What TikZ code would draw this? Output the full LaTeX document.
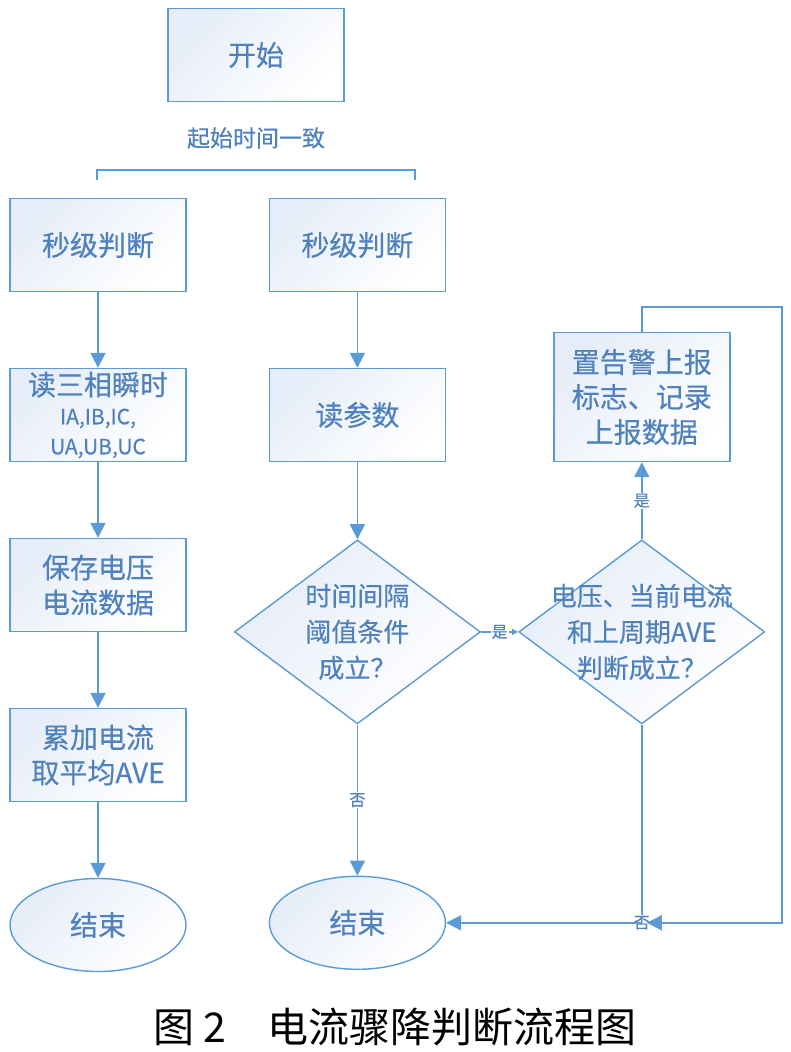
\documentclass[tikz,border=0pt]{standalone}
\usepackage{fontspec}
\setmainfont{Noto Sans CJK SC}
\newfontfamily\boxfont{Noto Sans CJK SC}[FakeBold=0.4]
\usepackage{xcolor}
\usetikzlibrary{arrows.meta}
\usetikzlibrary{positioning, shapes.geometric}
\definecolor{lineblue}{RGB}{91,155,213}
\definecolor{txtblue}{RGB}{79,129,189}
\definecolor{fillblue}{RGB}{230,237,248}
\tikzset{
box/.style = {draw=lineblue, line width=1.4pt, minimum width=176pt,
              minimum height=93pt, text=txtblue, align=center, inner sep=1pt,
              font=\boxfont\fontsize{28}{35}\selectfont,
              top color=fillblue, bottom color=white, shading angle=45},
ell/.style = {box, ellipse},
dia/.style = {box, diamond, minimum width=246pt, minimum height=184pt,
              inner sep=0pt},
lbl/.style = {fill=white, text=txtblue, inner sep=1pt,
              font=\boxfont\fontsize{16}{16}\selectfont},
wire/.style = {draw=lineblue, line width=1.8pt},
arr/.style = {wire, -{Triangle[length=15pt,width=15pt]}},
arrs/.style = {wire, -{Triangle[length=6pt,width=6pt]}}
}
\begin{document}
\begin{tikzpicture}[x=1pt, y=-1pt, node distance=75.6pt]
    \useasboundingbox (0,0) rectangle (790,1052);

    \node[box] (start) at (256,55) {开始};
    \node[text=txtblue, font=\boxfont\fontsize{23}{23}\selectfont] (sync) at (256,138) {起始时间一致};
    \coordinate (bl) at (97,180);
    \coordinate (br) at (415,180);
    \draw[wire, line width=1.4pt] (bl) -- ++(0,-10) -| (br);

    % left column
    \node[box] (s1) at (98,245) {秒级判断};
    \node[box, below=of s1, inner ysep=-5pt] (r1) {读三相瞬时\\[-6pt]{\fontsize{21}{31}\selectfont IA,IB,IC,}\\[-5pt]{\fontsize{21}{31}\selectfont UA,UB,UC}};
    \node[box, below=of r1] (v1) {保存电压\\电流数据};
    \node[box, below=of v1] (avg) {累加电流\\取平均AVE};
    \node[ell, below=of avg] (e1) {结束};

    % right column
    \node[box, right=82pt of s1] (s2) {秒级判断};
    \node[box, below=of s2] (rp) {读参数};
    \node[dia, below=77pt of rp, label={[text=txtblue, align=center, font=\boxfont\fontsize{26}{36}\selectfont]center:时间间隔\\阈值条件\\成立？}] (d1) {};
    \node[dia, right=37pt of d1, label={[text=txtblue, align=center, font=\boxfont\fontsize{26}{36}\selectfont]center:电压、当前电流\\和上周期AVE\\判断成立？}] (d2) {};
    \node[box, above=77pt of d2, minimum height=129pt] (alarm) {置告警上报\\标志、记录\\上报数据};
    \node[ell, below=151pt of d1] (e2) {结束};
    \coordinate (j) at (d2.south |- e2.east);

    \draw[arr] (s1) -- (r1);
    \draw[arr] (r1) -- (v1);
    \draw[arr] (v1) -- (avg);
    \draw[arr] (avg) -- (e1);
    \draw[arr] (s2) -- (rp);
    \draw[arr] (rp) -- (d1);
    \draw[arrs] (d1) -- node[lbl] {是} (d2);
    \draw[arr] (d2) -- node[lbl] {是} (alarm);
    \draw[arr] (d1) -- node[lbl] {否} (e2);
    \draw[wire] (d2.south) -- (j) node[lbl] {否};
    \draw[arr] (j) -- (e2);
    \draw[arr, shorten >=5pt] (alarm.north) -- ++(0,-25) -| ([xshift=140pt]j) -- (j);

    \node[font=\fontsize{41}{41}\selectfont] (cap) at (395,1027) {图 2\quad 电流骤降判断流程图};
\end{tikzpicture}
\end{document}
